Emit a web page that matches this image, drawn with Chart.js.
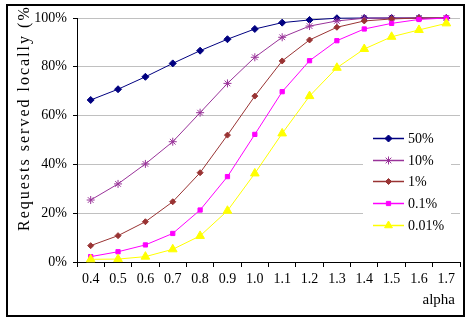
<!DOCTYPE html>
<html>
<head>
<meta charset="utf-8">
<script src="https://cdn.jsdelivr.net/npm/chart.js@4/dist/chart.umd.min.js"></script>
<style>
html,body{margin:0;padding:0;background:#fff;}
canvas{display:block;}
</style>
</head>
<body>
<canvas id="c" width="471" height="322"></canvas>
<script>
const categories = ['0.4','0.5','0.6','0.7','0.8','0.9','1.0','1.1','1.2','1.3','1.4','1.5','1.6','1.7'];
const seriesLabels = ['50%','10%','1%','0.1%','0.01%'];
const s50  = [66.4,70.8,75.9,81.4,86.6,91.3,95.5,98.1,99.2,99.9,100,100,100,100];
const s10  = [25.4,32.0,40.2,49.3,61.2,73.2,83.9,92.1,96.7,98.8,99.9,100,100,100];
const s1   = [6.7,10.8,16.5,24.7,36.6,52.0,68.0,82.4,91.0,96.2,98.8,99.6,100,100];
const s01  = [2.2,4.2,7.0,11.7,21.3,35.0,52.3,69.8,82.5,90.7,95.5,97.8,99.4,100];
const s001 = [1.1,1.2,2.2,5.2,10.7,21.0,36.3,52.7,68.0,79.6,87.3,92.3,95.1,97.8];
const yTickValues = [0,20,40,60,80,100];
const yTitle = 'Requests served locally (%)';
const xTitle = 'alpha';

const seriesValues = [s50, s10, s1, s01, s001];
const colors = ['#000080','#993399','#993333','#FF00FF','#FFFF00'];
const styles = ['rectRot','star','rectRot','rect','triangle'];
const radii = [3.5,4,3,3,5];
const SERIF = '"Liberation Serif","Times New Roman",serif';

const datasets = seriesValues.map((v,i)=>({
  label: seriesLabels[i],
  data: v,
  borderColor: colors[i],
  backgroundColor: colors[i],
  borderWidth: 1,
  pointStyle: styles[i],
  pointRadius: radii[i],
  pointBorderWidth: 1,
  pointBorderColor: colors[i],
  pointBackgroundColor: colors[i],
  tension: 0,
  clip: 10,
  order: 4 - i
}));

const deco = {
  id: 'deco',
  afterDraw(chart){
    const ctx = chart.ctx;
    ctx.save();
    // legend
    const lx0 = 363, lx1 = 451, ly0 = 127, ly1 = 236;
    ctx.fillStyle = '#fff';
    ctx.fillRect(lx0, ly0, lx1-lx0, ly1-ly0);
    ctx.font = '14px ' + SERIF;
    ctx.textAlign = 'left';
    ctx.textBaseline = 'middle';
    chart.data.datasets.forEach((ds,i)=>{
      const y = Math.round(138 + i*21.7) + 0.5;
      ctx.strokeStyle = ds.borderColor;
      ctx.fillStyle = ds.backgroundColor;
      ctx.lineWidth = 1.5;
      ctx.beginPath(); ctx.moveTo(373, y); ctx.lineTo(404, y); ctx.stroke();
      ctx.lineWidth = 1;
      Chart.helpers.drawPoint(ctx, {pointStyle: ds.pointStyle, radius: Math.min(ds.pointRadius,4.5), borderWidth:1}, 388.5, y);
      ctx.fillStyle = '#000';
      ctx.fillText(ds.label, 408, y+0.5);
    });
    // x title
    ctx.font = '15px ' + SERIF;
    ctx.textAlign = 'right';
    ctx.textBaseline = 'middle';
    ctx.fillStyle = '#000';
    ctx.fillText(xTitle, 455, 300);
    // y title
    ctx.save();
    ctx.beginPath(); ctx.rect(8, 6, 455, 309); ctx.clip();
    ctx.translate(29, 231);
    ctx.rotate(-Math.PI/2);
    ctx.font = '16px ' + SERIF;
    try { ctx.letterSpacing = '2px'; } catch(e) {}
    ctx.textAlign = 'left';
    ctx.textBaseline = 'alphabetic';
    ctx.fillText(yTitle, 0, 0);
    ctx.restore();
    // outer border
    ctx.strokeStyle = '#000';
    ctx.lineWidth = 2;
    ctx.strokeRect(7, 5, 457, 311);
    ctx.restore();
  }
};

new Chart(document.getElementById('c'), {
  type: 'line',
  data: { labels: categories, datasets },
  options: {
    responsive: false,
    animation: false,
    devicePixelRatio: 1,
    layout: { padding: { left: 0, top: 18, right: 11, bottom: 0 } },
    plugins: { legend: { display: false }, tooltip: { enabled: false }, title: { display: false } },
    scales: {
      x: {
        type: 'category',
        offset: true,
        grid: { display: true, drawOnChartArea: false, drawTicks: true, tickLength: 5, offset: true, color: '#000', tickColor: '#000' },
        border: { display: true, color: '#000', width: 1 },
        ticks: { font: { family: SERIF, size: 14 }, color: '#000', padding: 4, maxRotation: 0, autoSkip: false },
        afterFit(scale){ scale.height = 60; }
      },
      y: {
        min: 0, max: 100,
        afterBuildTicks(scale){ scale.ticks = yTickValues.map(v=>({value:v})); },
        grid: { display: true, drawOnChartArea: true, drawTicks: true, tickLength: 4, color: '#C0C0C0', tickColor: '#000', lineWidth: 1 },
        border: { display: true, color: '#000', width: 1 },
        ticks: { font: { family: SERIF, size: 14 }, color: '#000', padding: 6, callback: v => v + '%' },
        afterFit(scale){ scale.width = 77; }
      }
    }
  },
  plugins: [deco]
});
</script>
</body>
</html>
